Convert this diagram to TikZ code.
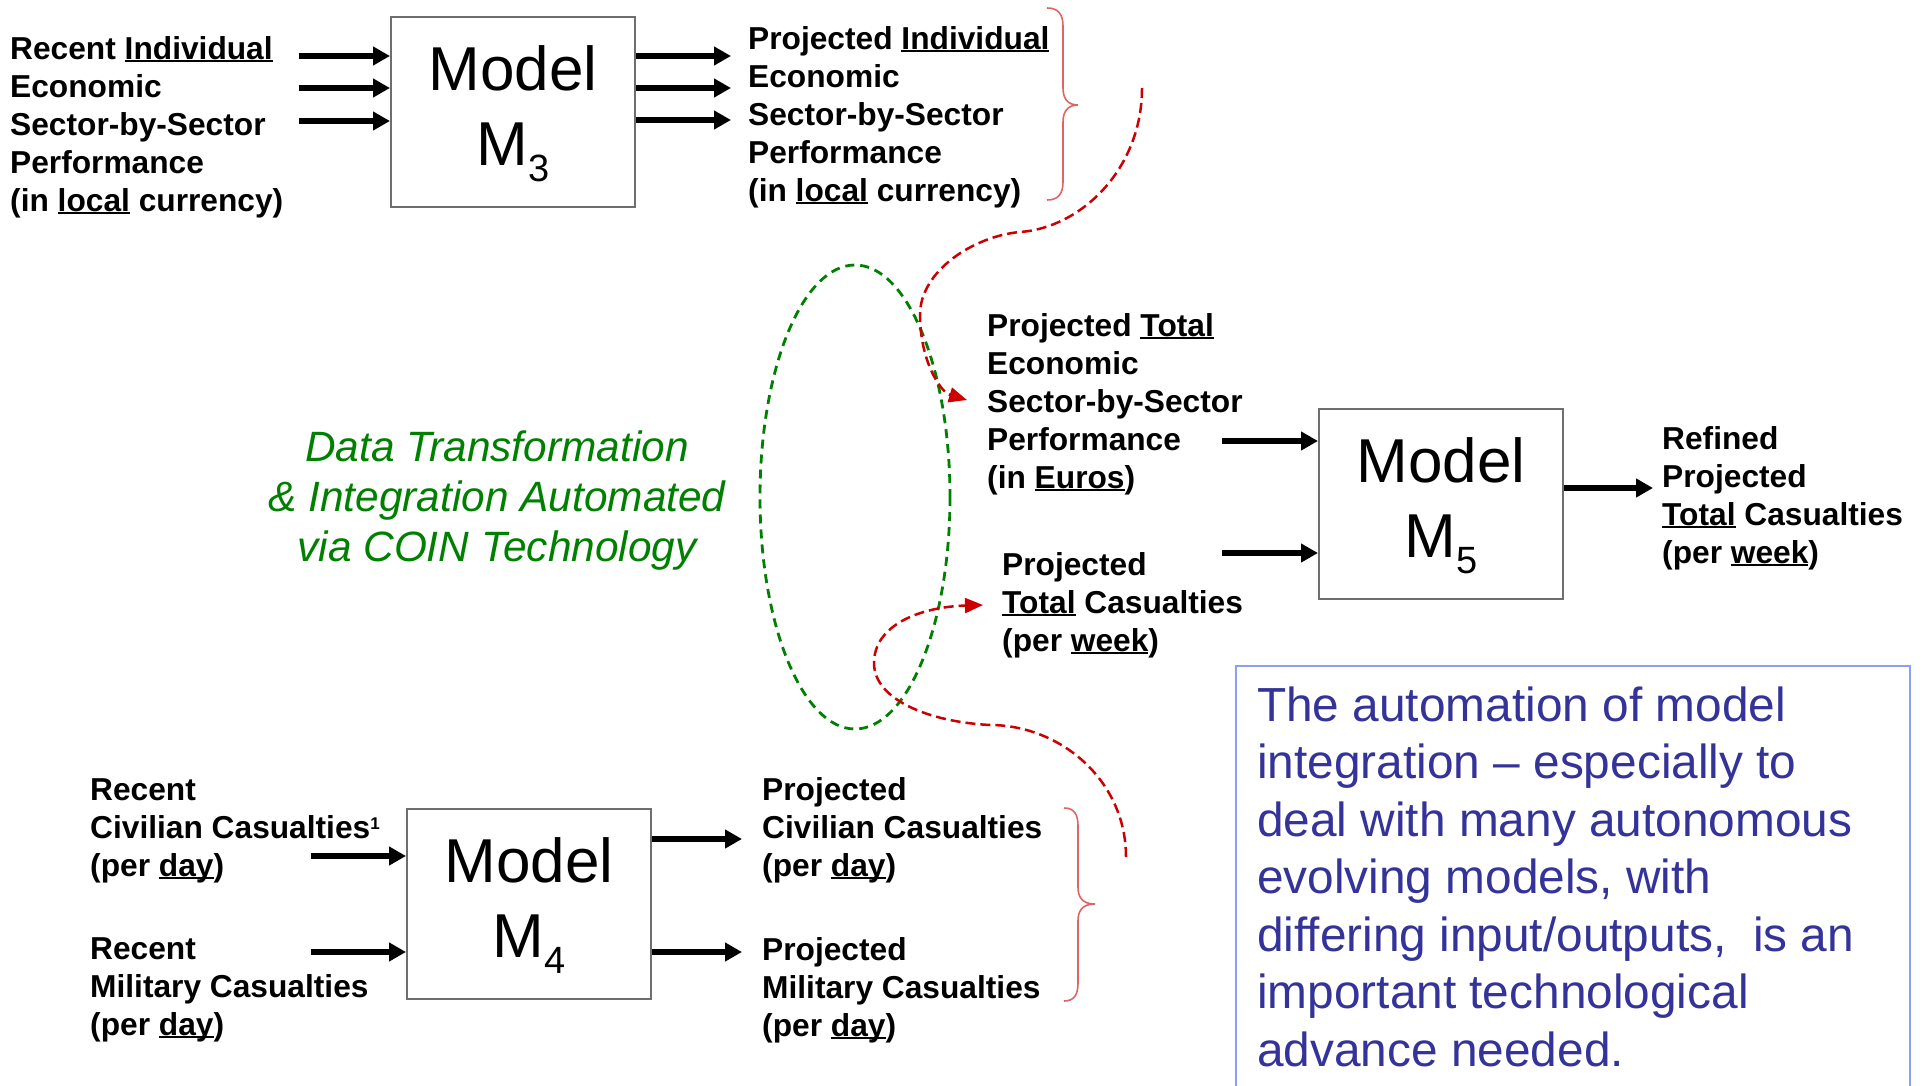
\documentclass[tikz,border=0pt]{standalone}
\usepackage{fontspec}
\setmainfont{Liberation Sans}
\usetikzlibrary{arrows.meta,calc}
\definecolor{boxgray}{RGB}{110,110,110}
\definecolor{dred}{RGB}{204,0,0}
\definecolor{dgreen}{RGB}{0,128,0}
\definecolor{bracered}{RGB}{225,100,100}
\definecolor{bluetext}{RGB}{51,51,153}
\definecolor{blueframe}{RGB}{140,160,240}
\newcommand{\lstrut}{\rule{0pt}{24pt}}
\newcommand{\msub}[1]{\raisebox{-16pt}{\fontsize{38}{38}\selectfont #1}}
\newcommand{\myul}[1]{\setbox0\hbox{#1}\rlap{\rule[-3.2pt]{\wd0}{2.2pt}}\box0\relax}
\tikzset{
  lbl/.style={anchor=north west, inner sep=0pt, align=left,
    font=\fontsize{31.7}{38}\selectfont\bfseries},
  mbox/.style={draw=boxgray, line width=2pt, minimum width=244pt,
    minimum height=190pt, inner sep=0pt},
  mtext/.style={anchor=north, inner sep=0pt, align=center,
    font=\fontsize{62}{75}\selectfont},
  arr/.style={line width=5.5pt, -{Triangle[length=17pt,width=18pt]}},
  rarr/.style={draw=dred, line width=2.5pt, dash pattern=on 10pt off 5pt,
    -{Triangle[length=18pt,width=15pt,fill=dred]}},
  gdash/.style={draw=dgreen, line width=2.8pt, dash pattern=on 9pt off 6pt},
  brace/.style={draw=bracered, line width=1.6pt},
  greentxt/.style={anchor=north, inner sep=0pt, align=center, text=dgreen,
    font=\fontsize{42.4}{50}\selectfont\itshape},
  bluetxt/.style={anchor=north west, inner sep=0pt, align=left, text=bluetext,
    font=\fontsize{47.8}{57.5}\selectfont},
}
\begin{document}
\begin{tikzpicture}[x=1pt,y=-1pt]
\useasboundingbox (0,0) rectangle (1927,1086);
\fill[white] (0,0) rectangle (1927,1086);

% ---------------- Model M3 ----------------
\node[mbox] (m3) at (513,112) {};
\node[mtext] (m3t) at ([yshift=-27pt]m3.north) {\rule{0pt}{47pt}Model\\M\msub{3}};
\node[lbl] (in3) at (10,35) {\lstrut Recent \myul{Individual}\\Economic\\Sector-by-Sector\\Performance\\(in \myul{local} currency)};
\node[lbl] (out3) at (748,25) {\lstrut Projected \myul{Individual}\\Economic\\Sector-by-Sector\\Performance\\(in \myul{local} currency)};
\coordinate (i3a) at (299,56);
\coordinate (i3b) at (299,88);
\coordinate (i3c) at (299,121);
\draw[arr] (i3a) -- (i3a -| m3.west);
\draw[arr] (i3b) -- (i3b -| m3.west);
\draw[arr] (i3c) -- (i3c -| m3.west);
\coordinate (o3a) at (731,56);
\coordinate (o3b) at (731,88);
\coordinate (o3c) at (731,120);
\draw[arr] (o3a -| m3.east) -- (o3a);
\draw[arr] (o3b -| m3.east) -- (o3b);
\draw[arr] (o3c -| m3.east) -- (o3c);
\draw[brace] (1047,8) .. controls (1058,8) and (1063,14) .. (1063,26) -- (1063,88)
  .. controls (1063,99) and (1068,105) .. (1078,105)
  .. controls (1068,105) and (1063,111) .. (1063,122) -- (1063,182)
  .. controls (1063,194) and (1058,200) .. (1047,200);

% ---------------- Model M5 ----------------
\node[mbox] (m5) at (1441,504) {};
\node[mtext] (m5t) at ([yshift=-27pt]m5.north) {\rule{0pt}{47pt}Model\\M\msub{5}};
\node[lbl] (pte) at (987,312) {\lstrut Projected \myul{Total}\\Economic\\Sector-by-Sector\\Performance\\(in \myul{Euros})};
\node[lbl] (ptc) at (1002,551) {\lstrut Projected\\\myul{Total} Casualties\\(per \myul{week})};
\node[lbl] (ref) at (1662,425) {\lstrut Refined\\Projected\\\myul{Total} Casualties\\(per \myul{week})};
\coordinate (i5a) at (1222,441);
\coordinate (i5b) at (1222,553);
\draw[arr] (i5a) -- (i5a -| m5.west);
\draw[arr] (i5b) -- (i5b -| m5.west);
\coordinate (o5) at (1653,488);
\draw[arr] (o5 -| m5.east) -- (o5);

% ---------------- Model M4 ----------------
\node[mbox] (m4) at (529,904) {};
\node[mtext] (m4t) at ([yshift=-27pt]m4.north) {\rule{0pt}{47pt}Model\\M\msub{4}};
\node[lbl] (civ) at (90,776) {\lstrut Recent\\Civilian Casualties\raisebox{9pt}{\fontsize{17}{17}\selectfont 1}\\(per \myul{day})};
\node[lbl] (mil) at (90,935) {\lstrut Recent\\Military Casualties\\(per \myul{day})};
\node[lbl] (pciv) at (762,776) {\lstrut Projected\\Civilian Casualties\\(per \myul{day})};
\node[lbl] (pmil) at (762,936) {\lstrut Projected\\Military Casualties\\(per \myul{day})};
\coordinate (i4a) at (311,856);
\coordinate (i4b) at (311,952);
\draw[arr] (i4a) -- (i4a -| m4.west);
\draw[arr] (i4b) -- (i4b -| m4.west);
\coordinate (o4a) at (742,839);
\coordinate (o4b) at (742,952);
\draw[arr] (o4a -| m4.east) -- (o4a);
\draw[arr] (o4b -| m4.east) -- (o4b);
\draw[brace] (1064,808) .. controls (1074,808) and (1078,814) .. (1078,826) -- (1078,887)
  .. controls (1078,898) and (1083,904) .. (1095,904)
  .. controls (1083,904) and (1078,910) .. (1078,921) -- (1078,983)
  .. controls (1078,995) and (1074,1001) .. (1064,1001);

% ---------------- COIN integration ----------------
\node[greentxt] (coin) at (497,429) {\rule{0pt}{32pt}Data Transformation\\\& Integration Automated\\via COIN Technology};
\draw[gdash] (855,497) ellipse [x radius=95, y radius=232];

\coordinate (c1s) at (1142,88);
\coordinate (c1e) at (967,400);
\draw[rarr] (c1s) .. controls (1142,170) and (1080,228) .. (1020,232)
  .. controls (975,236) and (920,270) .. (920,315)
  .. controls (920,360) and (940,392) .. (c1e);
\coordinate (c2s) at (1126,857);
\coordinate (c2e) at (983,605);
\draw[rarr] (c2s) .. controls (1126,780) and (1060,725) .. (990,725)
  .. controls (930,722) and (874,700) .. (874,663)
  .. controls (874,625) and (920,607) .. (c2e);

% ---------------- note box ----------------
\begin{scope}
\clip (0,0) rectangle (1927,1086);
\node[draw=blueframe, line width=2pt, anchor=north west, minimum width=674pt,
  minimum height=460pt, inner sep=0pt] (note) at (1235,665) {};
\end{scope}
\node[bluetxt] (notetxt) at (1257,685) {\rule{0pt}{36pt}The automation of model\\integration -- especially to\\deal with many autonomous\\evolving models, with\\differing input/outputs,\ \ is an\\important technological\\advance needed.};
\end{tikzpicture}
\end{document}
